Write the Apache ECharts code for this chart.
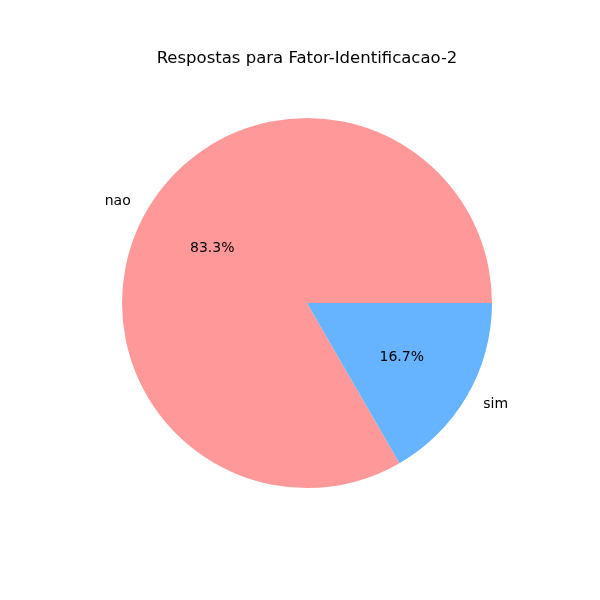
<!DOCTYPE html>
<html lang="en">
  <head>
    <meta charset="UTF-8" />
    <title>Respostas para Fator-Identificacao-2</title>
    <script src="https://cdn.jsdelivr.net/npm/echarts@6/dist/echarts.min.js"></script>
    <style>
      html, body { margin: 0; padding: 0; background: #fff; }
      #main { width: 600px; height: 600px; }
    </style>
  </head>
  <body>
    <div id="main"></div>
    <script>
      // dados
      var categories = ["nao", "sim"];
      var values = [5, 1];
      var colors = ["#ff9999", "#66b3ff"];

      var total = values.reduce(function (a, b) { return a + b; }, 0);
      var R = 185;
      var font = "DejaVu Sans";

      var pieData = categories.map(function (c, i) {
        return {
          name: c,
          value: values[i],
          itemStyle: { color: colors[i] }
        };
      });
      var pctData = categories.map(function (c, i) {
        return { name: c, value: values[i] };
      });

      var chart = echarts.init(document.getElementById("main"));
      chart.setOption({
        animation: false,
        title: {
          text: "Respostas para Fator-Identificacao-2",
          left: 302,
          top: 45,
          textAlign: "center",
          textStyle: { fontFamily: font, fontSize: 16.5, fontWeight: "normal", color: "#000" }
        },
        series: [
          {
            // fatias + nomes por fora
            type: "pie",
            center: [307, 303],
            radius: [0, R],
            startAngle: 0,
            clockwise: false,
            silent: true,
            data: pieData,
            label: {
              show: true,
              position: "outside",
              formatter: "{b}",
              fontFamily: font,
              fontSize: 14,
              color: "#000",
              distanceToLabelLine: 0
            },
            labelLine: { show: false, length: R * 0.1, length2: 0 },
            emphasis: { disabled: true }
          },
          {
            // porcentagens perto de 0.6 do raio
            type: "pie",
            center: [307, 303],
            radius: [0, R * 1.15],
            startAngle: 0,
            clockwise: false,
            silent: true,
            z: 3,
            data: pctData,
            itemStyle: { color: "rgba(0,0,0,0)" },
            label: {
              show: true,
              position: "inside",
              formatter: function (p) {
                return (p.value / total * 100).toFixed(1) + "%";
              },
              fontFamily: font,
              fontSize: 14,
              color: "#000"
            },
            labelLine: { show: false },
            emphasis: { disabled: true }
          }
        ]
      });
    </script>
  </body>
</html>
